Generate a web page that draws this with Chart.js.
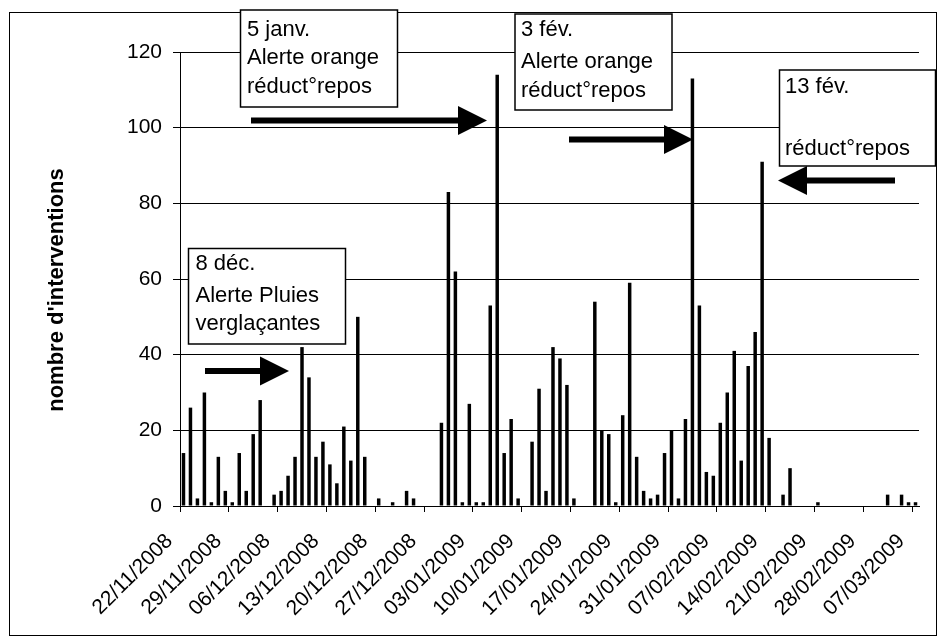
<!DOCTYPE html>
<html>
<head>
<meta charset="utf-8">
<script src="https://cdn.jsdelivr.net/npm/chart.js@4.4.1/dist/chart.umd.min.js"></script>
<style>
  html, body { margin: 0; padding: 0; background: #fff; }
  #wrap { width: 939px; height: 643px; position: relative; }
</style>
</head>
<body>
<div id="wrap"><canvas id="interventionsChart"></canvas></div>
<script>
// Daily categories, 22/11/2008 -> 07/03/2009
const days = [
    '22/11/2008', '23/11/2008', '24/11/2008', '25/11/2008', '26/11/2008', '27/11/2008', '28/11/2008',
    '29/11/2008', '30/11/2008', '01/12/2008', '02/12/2008', '03/12/2008', '04/12/2008', '05/12/2008',
    '06/12/2008', '07/12/2008', '08/12/2008', '09/12/2008', '10/12/2008', '11/12/2008', '12/12/2008',
    '13/12/2008', '14/12/2008', '15/12/2008', '16/12/2008', '17/12/2008', '18/12/2008', '19/12/2008',
    '20/12/2008', '21/12/2008', '22/12/2008', '23/12/2008', '24/12/2008', '25/12/2008', '26/12/2008',
    '27/12/2008', '28/12/2008', '29/12/2008', '30/12/2008', '31/12/2008', '01/01/2009', '02/01/2009',
    '03/01/2009', '04/01/2009', '05/01/2009', '06/01/2009', '07/01/2009', '08/01/2009', '09/01/2009',
    '10/01/2009', '11/01/2009', '12/01/2009', '13/01/2009', '14/01/2009', '15/01/2009', '16/01/2009',
    '17/01/2009', '18/01/2009', '19/01/2009', '20/01/2009', '21/01/2009', '22/01/2009', '23/01/2009',
    '24/01/2009', '25/01/2009', '26/01/2009', '27/01/2009', '28/01/2009', '29/01/2009', '30/01/2009',
    '31/01/2009', '01/02/2009', '02/02/2009', '03/02/2009', '04/02/2009', '05/02/2009', '06/02/2009',
    '07/02/2009', '08/02/2009', '09/02/2009', '10/02/2009', '11/02/2009', '12/02/2009', '13/02/2009',
    '14/02/2009', '15/02/2009', '16/02/2009', '17/02/2009', '18/02/2009', '19/02/2009', '20/02/2009',
    '21/02/2009', '22/02/2009', '23/02/2009', '24/02/2009', '25/02/2009', '26/02/2009', '27/02/2009',
    '28/02/2009', '01/03/2009', '02/03/2009', '03/03/2009', '04/03/2009', '05/03/2009', '06/03/2009',
    '07/03/2009'
];

// nombre d'interventions par jour
const interventions = [
    14, 26, 2, 30, 1, 13, 4,
    1, 14, 4, 19, 28, 0, 3,
    4, 8, 13, 42, 34, 13, 17,
    11, 6, 21, 12, 50, 13, 0,
    2, 0, 1, 0, 4, 2, 0,
    0, 0, 22, 83, 62, 1, 27,
    1, 1, 53, 114, 14, 23, 2,
    0, 17, 31, 4, 42, 39, 32,
    2, 0, 0, 54, 20, 19, 1,
    24, 59, 13, 4, 2, 3, 14,
    20, 2, 23, 113, 53, 9, 8,
    22, 30, 41, 12, 37, 46, 91,
    18, 0, 3, 10, 0, 0, 0,
    1, 0, 0, 0, 0, 0, 0,
    0, 0, 0, 3, 0, 3, 1,
    1
];

const yTicks = [0, 20, 40, 60, 80, 100, 120];
const labelEvery = 7;
const yTitle = "nombre d'interventions";

// text boxes and arrows laid over the plot (page pixels)
const notes = [
    { x: 240.5, y: 10, w: 157, h: 97, tx: 247, lines: [['5 janv.', 35.5], ['Alerte orange', 63.5], ['réduct°repos', 93]] },
    { x: 515, y: 14, w: 157, h: 96, tx: 521, lines: [['3 fév.', 35.5], ['Alerte orange', 68], ['réduct°repos', 96.5]] },
    { x: 779.5, y: 70, w: 156, h: 96, tx: 785, lines: [['13 fév.', 93], ['réduct°repos', 155]] },
    { x: 188.5, y: 248.5, w: 157, h: 95.5, tx: 195.5, lines: [['8 déc.', 270], ['Alerte Pluies', 301.5], ['verglaçantes', 330]] }
];
const arrows = [
    { from: 205, to: 289, y: 371 },
    { from: 251, to: 487, y: 120.5 },
    { from: 569, to: 693, y: 139.5 },
    { from: 895, to: 778, y: 180.5 }
];

const FONT = "'Liberation Sans', Arial, sans-serif";
Chart.defaults.font.family = FONT;
Chart.defaults.color = '#000';

const decorPlugin = {
    id: 'decor',
    beforeDraw(chart) {
        const ctx = chart.ctx;
        ctx.save();
        ctx.fillStyle = '#fff';
        ctx.fillRect(0, 0, chart.width, chart.height);
        ctx.strokeStyle = '#000';
        ctx.lineWidth = 1;
        ctx.strokeRect(9.5, 12.5, 927, 623);
        ctx.restore();
    },
    afterDraw(chart) {
        const ctx = chart.ctx;
        ctx.save();
        // y axis title
        ctx.translate(57, 290);
        ctx.rotate(-Math.PI / 2);
        ctx.font = 'bold 22px ' + FONT;
        ctx.fillStyle = '#000';
        ctx.textAlign = 'center';
        ctx.textBaseline = 'middle';
        ctx.fillText(yTitle, 0, 0);
        ctx.restore();
    },
    afterDatasetsDraw(chart) {
        const ctx = chart.ctx;
        ctx.save();
        ctx.fillStyle = '#000';
        arrows.forEach(a => {
            const dir = a.to > a.from ? 1 : -1;
            const headLen = 29, headHalf = 14.5, shaft = 3;
            const base = a.to - dir * headLen;
            ctx.beginPath();
            ctx.rect(Math.min(a.from, base), a.y - shaft, Math.abs(base - a.from), shaft * 2);
            ctx.fill();
            ctx.beginPath();
            ctx.moveTo(a.to, a.y);
            ctx.lineTo(base, a.y - headHalf);
            ctx.lineTo(base, a.y + headHalf);
            ctx.closePath();
            ctx.fill();
        });
        notes.forEach(n => {
            ctx.fillStyle = '#fff';
            ctx.fillRect(n.x, n.y, n.w, n.h);
            ctx.strokeStyle = '#000';
            ctx.lineWidth = 1.5;
            ctx.strokeRect(n.x, n.y, n.w, n.h);
            ctx.fillStyle = '#000';
            ctx.font = '22px ' + FONT;
            ctx.textBaseline = 'alphabetic';
            ctx.textAlign = 'left';
            n.lines.forEach(l => ctx.fillText(l[0], n.tx, l[1]));
        });
        ctx.restore();
    }
};

const ctxBar = document.getElementById('interventionsChart');

new Chart(ctxBar, {
    type: 'bar',
    data: {
        labels: days,
        datasets: [{
            label: yTitle,
            data: interventions,
            backgroundColor: '#000',
            borderWidth: 0,
            barPercentage: 0.5,
            categoryPercentage: 1
        }]
    },
    options: {
        responsive: true,
        maintainAspectRatio: false,
        animation: false,
        devicePixelRatio: 1,
        layout: {
            padding: { top: 52, right: 20, bottom: 0, left: 0 }
        },
        scales: {
            x: {
                offset: true,
                afterFit: function (scale) {
                    scale.height = 137;
                    scale.paddingLeft = 0;
                    scale.paddingRight = 0;
                },
                grid: {
                    offset: true,
                    drawOnChartArea: false,
                    drawTicks: true,
                    tickLength: 6,
                    color: function (c) { return c.index % labelEvery === 0 ? '#000' : 'rgba(0,0,0,0)'; }
                },
                border: { display: true, color: '#000', width: 1 },
                ticks: {
                    autoSkip: false,
                    minRotation: 45,
                    maxRotation: 45,
                    padding: 17,
                    labelOffset: -14,
                    font: { size: 21 },
                    callback: function (value, index) {
                        return index % labelEvery === 0 ? this.getLabelForValue(value) : '';
                    }
                }
            },
            y: {
                min: yTicks[0],
                max: yTicks[yTicks.length - 1],
                afterFit: function (scale) { scale.width = 180; },
                afterBuildTicks: function (scale) { scale.ticks = yTicks.map(v => ({ value: v })); },
                grid: {
                    color: '#000',
                    lineWidth: 1,
                    drawTicks: true,
                    tickLength: 7
                },
                border: { display: true, color: '#000', width: 1 },
                ticks: {
                    padding: 11,
                    font: { size: 21 }
                }
            }
        },
        plugins: {
            legend: { display: false },
            tooltip: { enabled: false }
        }
    },
    plugins: [decorPlugin]
});
</script>
</body>
</html>
